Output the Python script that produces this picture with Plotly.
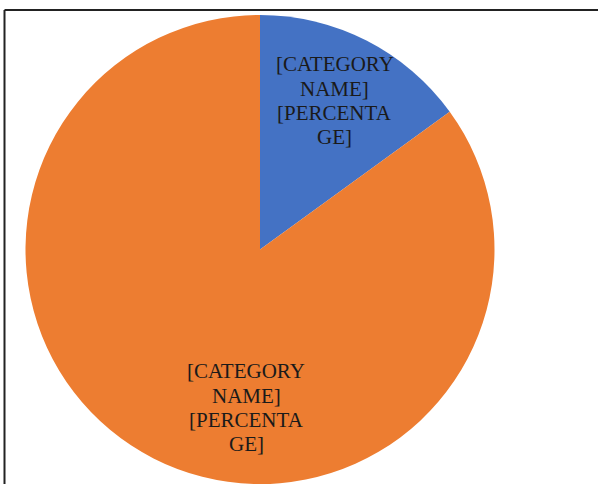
import plotly.graph_objects as go

labels = ["Blue category", "Orange category"]
values = [15, 85]
colors = ["#4472C4", "#ED7D31"]
label_lines = [["[CATEGORY", "NAME]", "[PERCENTA", "GE]"],
               ["[CATEGORY", "NAME]", "[PERCENTA", "GE]"]]

W, H = 598, 484
fig = go.Figure(go.Pie(
    labels=labels,
    values=values,
    marker=dict(colors=colors, line=dict(width=0)),
    sort=False,
    direction="clockwise",
    rotation=0,
    textinfo="none",
    hoverinfo="label+percent",
    domain=dict(x=[25 / W, 495 / W], y=[0, 1 - 15 / H]),
    showlegend=False,
))

# label block center positions (pixels) and line pitch
label_pos = [(334.5, 100.75), (246, 407.75)]
pitch = 24.3
for lines, (px, pc) in zip(label_lines, label_pos):
    n = len(lines)
    for i, line in enumerate(lines):
        py = pc + (i - (n - 1) / 2) * pitch
        fig.add_annotation(
            x=px / W, y=1 - py / H, xref="paper", yref="paper",
            xanchor="center", yanchor="middle", height=22,
            text=line, showarrow=False, align="center",
            font=dict(family="Liberation Serif", size=21, color="#1a1a1a"),
        )

# frame lines (left and top)
fig.add_shape(type="line", xref="paper", yref="paper",
              x0=4.5 / W, x1=4.5 / W, y0=0, y1=1 - 10 / H,
              line=dict(color="#222222", width=2))
fig.add_shape(type="line", xref="paper", yref="paper",
              x0=4.5 / W, x1=1, y0=1 - 10 / H, y1=1 - 10 / H,
              line=dict(color="#222222", width=2))

fig.update_layout(
    width=W, height=H,
    margin=dict(l=0, r=0, t=0, b=0),
    paper_bgcolor="white", plot_bgcolor="white",
)
fig.write_html("out.html")
